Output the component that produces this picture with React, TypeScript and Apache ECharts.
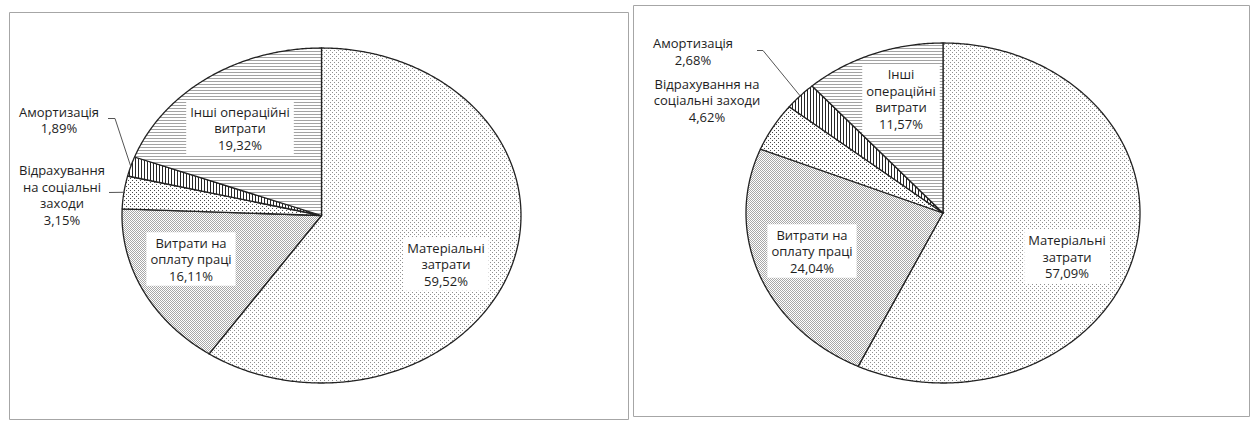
import React, { useEffect, useRef } from 'react';
import * as echarts from 'echarts';

// ---- data ----
const categoriesLeft = [
  'Матеріальні\nзатрати',
  'Витрати на\nоплату праці',
  'Відрахування\nна соціальні\nзаходи',
  'Амортизація',
  'Інші операційні\nвитрати',
];
const valuesLeft = [59.52, 16.11, 3.15, 1.89, 19.32];

const categoriesRight = [
  'Матеріальні\nзатрати',
  'Витрати на\nоплату праці',
  'Відрахування на\nсоціальні заходи',
  'Амортизація',
  'Інші\nопераційні\nвитрати',
];
const valuesRight = [57.09, 24.04, 4.62, 2.68, 11.57];

// ---- layout (positions / sizes) ----
const pieLeft = { cx: 321.5, cy: 215.5, rx: 199.5, ry: 167.5 };
const pieRight = { cx: 943, cy: 213, rx: 197, ry: 170 };
const labelPosLeft = [[446, 264], [191, 259], [62, 195], [59, 120], [240, 128]];
const labelPosRight = [[1067, 256.5], [812, 251], [707, 100], [693, 51.5], [901, 99]];
const leadersLeft: Record<number, number[][]> = { 2: [[107, 192.5]], 3: [[108, 118.5], [115, 118.5]] };
const leadersRight: Record<number, number[][]> = { 3: [[757, 50.5], [763, 50.5]] };

const FONT = "'Open Sans', 'Noto Sans', sans-serif";

function makePattern(w: number, h: number, pts: number[][], color: string) {
  const c = document.createElement('canvas');
  c.width = w;
  c.height = h;
  const ctx = c.getContext('2d')!;
  ctx.fillStyle = '#ffffff';
  ctx.fillRect(0, 0, w, h);
  ctx.fillStyle = color;
  pts.forEach(([x, y]) => ctx.fillRect(x, y, 1, 1));
  return { image: c.toDataURL(), repeat: 'repeat', imageWidth: w, imageHeight: h };
}

function fmt(v: number) {
  return v.toFixed(2).replace('.', ',') + '%';
}

function makeRender(
  values: number[],
  names: string[],
  pie: { cx: number; cy: number; rx: number; ry: number },
  labelPos: number[][],
  leaders: Record<number, number[][]>,
  patterns: any[]
) {
  const total = values.reduce((a, b) => a + b, 0);
  const TAU = Math.PI * 2;
  return (params: any, api: any) => {
    const i = params.dataIndex;
    const v = api.value(0);
    let before = 0;
    for (let k = 0; k < i; k++) before += values[k];
    const a0 = (before / total) * TAU;
    const a1 = ((before + v) / total) * TAU;
    const pts: number[][] = [[pie.cx, pie.cy]];
    const steps = Math.max(2, Math.ceil((a1 - a0) / (Math.PI / 360)));
    for (let s = 0; s <= steps; s++) {
      const t = a0 + ((a1 - a0) * s) / steps;
      pts.push([pie.cx + pie.rx * Math.sin(t), pie.cy - pie.ry * Math.cos(t)]);
    }
    const children: any[] = [
      {
        type: 'polygon',
        z2: 1,
        shape: { points: pts },
        style: { fill: patterns[i], stroke: '#222222', lineWidth: 1.3, lineJoin: 'round' },
      },
    ];
    const mid = (a0 + a1) / 2;
    const edge = [pie.cx + pie.rx * Math.sin(mid), pie.cy - pie.ry * Math.cos(mid)];
    if (leaders[i]) {
      children.push({
        type: 'polyline',
        z2: 5,
        shape: { points: [...leaders[i], edge] },
        style: { fill: null, stroke: '#555555', lineWidth: 1 },
      });
    }
    children.push({
      type: 'text',
      z2: 10,
      x: labelPos[i][0],
      y: labelPos[i][1],
      style: {
        text: names[i] + '\n' + fmt(v),
        fill: '#1e1e1e',
        fontSize: 13,
        fontFamily: FONT,
        lineHeight: 16.5,
        align: 'center',
        verticalAlign: 'middle',
        backgroundColor: '#ffffff',
        padding: [2, 4, 2, 4],
      },
    });
    return { type: 'group', children };
  };
}

export default function App() {
  const ref = useRef<HTMLDivElement>(null);
  useEffect(() => {
    document.body.style.margin = '0';
    const chart = echarts.init(ref.current!, null, { renderer: 'svg' });
    const patterns = [
      makePattern(4, 4, [[0, 0], [2, 2]], '#8f8f8f'), // material
      makePattern(2, 2, [[0, 0], [1, 1]], '#a8a8a8'), // labor
      makePattern(4, 4, [[0, 0], [2, 2]], '#4a4a4a'), // social
      makePattern(3, 1, [[0, 0]], '#262626'), // amortization
      makePattern(1, 3, [[0, 0]], '#a3a3a3'), // other
    ];
    chart.setOption({
      animation: false,
      backgroundColor: '#ffffff',
      graphic: [
        {
          type: 'rect',
          shape: { x: 9.5, y: 12.5, width: 619, height: 407 },
          style: { fill: 'none', stroke: '#a6a6a6', lineWidth: 1 },
          z: -1,
        },
        {
          type: 'rect',
          shape: { x: 633.5, y: 5.5, width: 616, height: 411 },
          style: { fill: 'none', stroke: '#a6a6a6', lineWidth: 1 },
          z: -1,
        },
      ],
      series: [
        {
          type: 'custom',
          coordinateSystem: 'none',
          data: valuesLeft.map((v) => [v]),
          renderItem: makeRender(valuesLeft, categoriesLeft, pieLeft, labelPosLeft, leadersLeft, patterns),
        },
        {
          type: 'custom',
          coordinateSystem: 'none',
          data: valuesRight.map((v) => [v]),
          renderItem: makeRender(valuesRight, categoriesRight, pieRight, labelPosRight, leadersRight, patterns),
        },
      ],
    });
    return () => chart.dispose();
  }, []);
  return <div ref={ref} style={{ width: 1256, height: 421 }} />;
}
